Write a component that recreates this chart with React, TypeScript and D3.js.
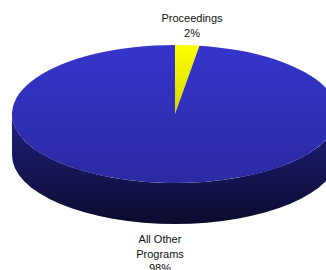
import { useEffect, useRef } from 'react';
import * as d3 from 'd3';

const categories = ['Proceedings', 'All Other Programs'];
const values = [2.4, 97.6];
const labels = ['2%', '98%'];

function App() {
  const ref = useRef<SVGSVGElement>(null);

  useEffect(() => {
    drawPie();
    // eslint-disable-next-line
  }, []);

  function drawPie() {
    const config = { width: 326, height: 270, cx: 175, cy: 114, rx: 163, ry: 69, depth: 41 };
    const { cx, cy, rx, ry, depth } = config;

    const svg = d3.select(ref.current);
    svg.selectAll('*').remove();

    const defs = svg.append('defs');
    const grad = (id: string, y1: number, y2: number, c1: string, c2: string) => {
      const g = defs.append('linearGradient')
        .attr('id', id)
        .attr('gradientUnits', 'userSpaceOnUse')
        .attr('x1', 0).attr('x2', 0).attr('y1', y1).attr('y2', y2);
      g.append('stop').attr('offset', 0).attr('stop-color', c1);
      g.append('stop').attr('offset', 1).attr('stop-color', c2);
    };
    grad('top0', cy - ry, cy, '#ffff00', '#d6d600');
    grad('top1', cy - ry, cy + ry, '#3535cb', '#2a2aa3');
    grad('side1', cy, cy + ry + depth, '#202080', '#0b0b2e');
    grad('side0', cy, cy + ry + depth, '#8a8a00', '#4a4a00');

    const pie = d3.pie<number>().sort(null).value(d => d);
    const arcs = pie(values);

    const px = (a: number) => cx + rx * Math.sin(a);
    const py = (a: number, dy = 0) => cy - ry * Math.cos(a) + dy;

    // side walls (front half only)
    arcs.forEach((d, i) => {
      const a0 = Math.max(d.startAngle, Math.PI / 2);
      const a1 = Math.min(d.endAngle, Math.PI * 1.5);
      if (a1 <= a0) return;
      const large = a1 - a0 > Math.PI ? 1 : 0;
      const p = `M${px(a0)},${py(a0)} A${rx},${ry} 0 ${large} 1 ${px(a1)},${py(a1)}` +
        ` L${px(a1)},${py(a1, depth)} A${rx},${ry} 0 ${large} 0 ${px(a0)},${py(a0, depth)} Z`;
      svg.append('path').attr('d', p).attr('fill', `url(#side${i})`);
    });

    // top faces
    arcs.forEach((d, i) => {
      const a0 = d.startAngle;
      const a1 = d.endAngle;
      const large = a1 - a0 > Math.PI ? 1 : 0;
      const p = `M${cx},${cy} L${px(a0)},${py(a0)} A${rx},${ry} 0 ${large} 1 ${px(a1)},${py(a1)} Z`;
      svg.append('path').attr('d', p).attr('fill', `url(#top${i})`);
    });

    // labels
    const labelPos = [
      { x: 192, y: 22 },
      { x: 160, y: 243 },
    ];
    const lines = [
      [categories[0], labels[0]],
      ['All Other', 'Programs', labels[1]],
    ];
    lines.forEach((ls, i) => {
      const t = svg.append('text')
        .attr('text-anchor', 'middle')
        .attr('font-family', 'Arial, "Liberation Sans", sans-serif')
        .attr('font-size', 11)
        .attr('fill', '#111');
      ls.forEach((s, j) => {
        t.append('tspan')
          .attr('x', labelPos[i].x)
          .attr('y', labelPos[i].y + j * 14.5)
          .text(s);
      });
    });
  }

  return (
    <svg ref={ref} width={326} height={270}
      style={{ position: 'absolute', left: 0, top: 0, background: '#fff' }} />
  );
}

export default App;
